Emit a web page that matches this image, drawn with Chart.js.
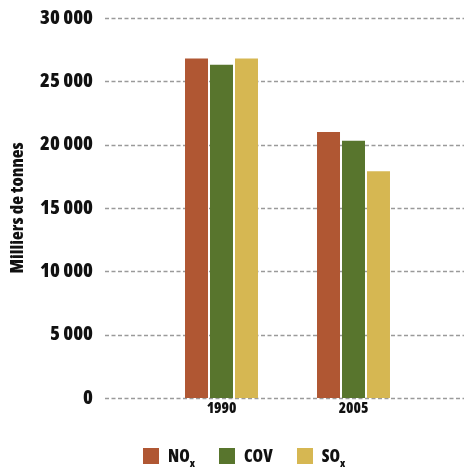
<!DOCTYPE html>
<html>
<head>
<meta charset="utf-8">
<script src="https://cdn.jsdelivr.net/npm/chart.js@4"></script>
<style>
  body { margin: 0; background: #fff; }
  #wrap { position: relative; width: 467px; height: 470px; }
  #legend { position: absolute; left: 143px; top: 448px; display: flex; font-family: "Open Sans", sans-serif; font-weight: 800; font-stretch: condensed; font-size: 17px; color: #111; }
  .item { display: flex; align-items: center; margin-right: 24px; }
  .box { width: 16px; height: 16px; margin-right: 9px; }
  .item span.txt { line-height: 16px; }
  sub { font-size: 11px; vertical-align: -5px; line-height: 0; }
</style>
</head>
<body>
<div id="wrap">
  <canvas id="chart" width="467" height="470"></canvas>
  <div id="legend"></div>
</div>
<script>
// Donnees
const annees = ['1990', '2005'];
const noxValues = [26800, 21000];
const covValues = [26300, 20300];
const soxValues = [26800, 17900];
const yTicks = [0, 5000, 10000, 15000, 20000, 25000, 30000];

const FONT = '"Open Sans", sans-serif';
const WEIGHT = '800 condensed';

function formatMilliers(v) {
    return String(v).replace(/\B(?=(\d{3})+(?!\d))/g, ' ');
}

// Lignes pointillees sur toute la largeur
const dashedGrid = {
    id: 'dashedGrid',
    beforeDatasetsDraw(chart) {
        const ctx = chart.ctx;
        const y = chart.scales.y;
        ctx.save();
        ctx.strokeStyle = '#9a9a9a';
        ctx.lineWidth = 1.5;
        ctx.setLineDash([4, 2.5]);
        y.ticks.forEach(t => {
            const py = Math.round(y.getPixelForValue(t.value)) + 0.5;
            ctx.beginPath();
            ctx.moveTo(105, py);
            ctx.lineTo(464, py);
            ctx.stroke();
        });
        ctx.restore();
    }
};

const chart = new Chart(document.getElementById('chart'), {
    type: 'bar',
    data: {
        labels: annees,
        datasets: [
            { label: 'NO|x', data: noxValues, backgroundColor: '#B05733' },
            { label: 'COV', data: covValues, backgroundColor: '#58752D' },
            { label: 'SO|x', data: soxValues, backgroundColor: '#D6B752' }
        ]
    },
    options: {
        responsive: false,
        animation: false,
        layout: { padding: { top: 18, left: 0, right: 47.5, bottom: 48 } },
        datasets: { bar: { categoryPercentage: 0.568, barPercentage: 0.92 } },
        plugins: { legend: { display: false }, tooltip: { enabled: false } },
        scales: {
            x: {
                grid: { display: false, drawTicks: false },
                border: { display: false },
                ticks: { color: '#111', padding: 2, font: { family: FONT, size: 15, weight: WEIGHT } },
                afterFit(scale) { scale.height = 24; }
            },
            y: {
                min: 0,
                max: 30000,
                afterBuildTicks(scale) { scale.ticks = yTicks.map(v => ({ value: v })); },
                grid: { display: false, drawTicks: true, tickLength: 62.5 },
                border: { display: false },
                ticks: {
                    color: '#111',
                    padding: 0,
                    font: { family: FONT, size: 20, weight: WEIGHT },
                    callback: v => formatMilliers(v)
                },
                title: {
                    display: true,
                    text: 'Milliers de tonnes',
                    color: '#111',
                    padding: { top: 7, bottom: 0 },
                    font: { family: FONT, size: 18, weight: WEIGHT }
                },
                afterFit(scale) { scale.width = 155.5; }
            }
        }
    },
    plugins: [dashedGrid]
});

// Legende HTML (pour l'indice x)
const legend = document.getElementById('legend');
chart.data.datasets.forEach(ds => {
    const item = document.createElement('div');
    item.className = 'item';
    const box = document.createElement('div');
    box.className = 'box';
    box.style.background = ds.backgroundColor;
    const txt = document.createElement('span');
    txt.className = 'txt';
    const parts = ds.label.split('|');
    txt.textContent = parts[0];
    if (parts[1]) {
        const sub = document.createElement('sub');
        sub.textContent = parts[1];
        txt.appendChild(sub);
    }
    item.appendChild(box);
    item.appendChild(txt);
    legend.appendChild(item);
});
</script>
</body>
</html>
